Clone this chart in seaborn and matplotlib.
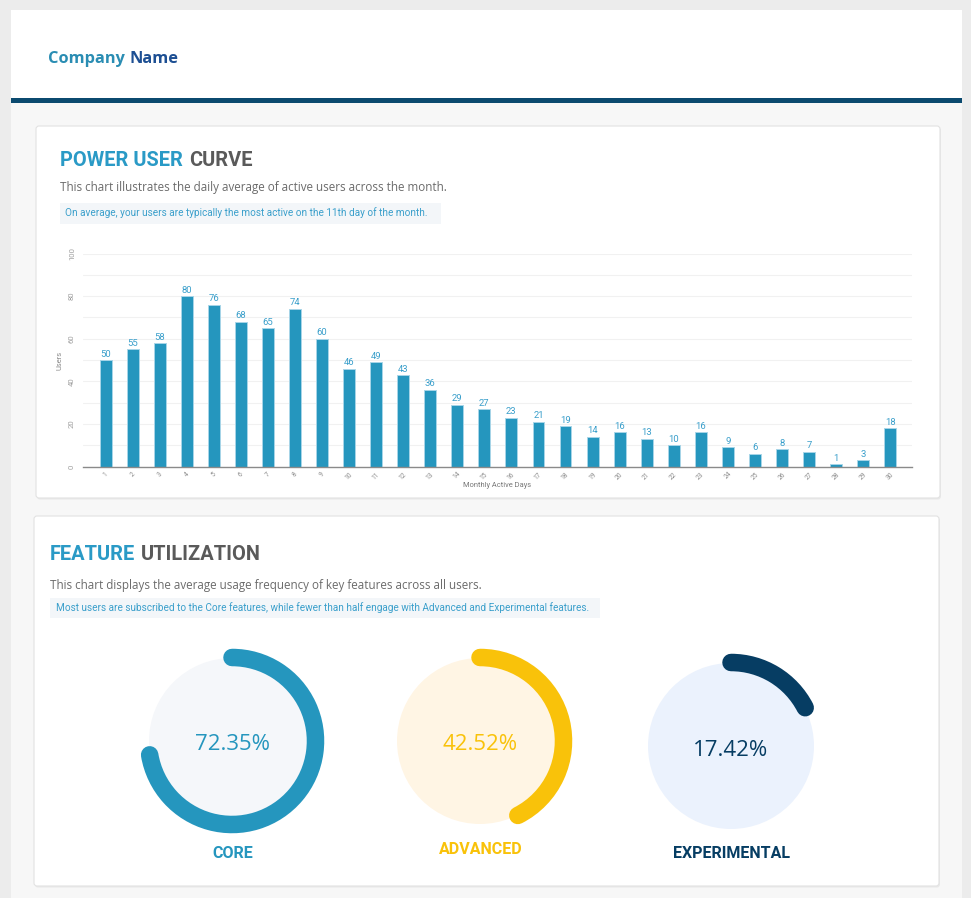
import numpy as np
import pandas as pd
import matplotlib
matplotlib.use("Agg")
import matplotlib.pyplot as plt
from matplotlib.patches import Rectangle, FancyBboxPatch, Circle, Arc
import seaborn as sns

# ---------------- data ----------------
days = list(range(1, 31))
users = [50, 55, 58, 80, 76, 68, 65, 74, 60, 46, 49, 43, 36, 29, 27, 23, 21, 19, 14, 16,
         13, 10, 16, 9, 6, 8, 7, 1, 3, 18]
y_ticks = [0, 20, 40, 60, 80, 100]
features = ["CORE", "ADVANCED", "EXPERIMENTAL"]
feature_pct = [72.35, 42.52, 17.42]

title1 = ("POWER USER", "CURVE")
subtitle1 = "This chart illustrates the daily average of active users across the month."
note1 = "On average, your users are typically the most active on the 11th day of the month."
title2 = ("FEATURE", "UTILIZATION")
subtitle2 = "This chart displays the average usage frequency of key features across all users."
note2 = "Most users are subscribed to the Core features, while fewer than half engage with Advanced and Experimental features."

# ---------------- style ----------------
sns.set_theme(style="white")
plt.rcParams["font.family"] = ["Roboto", "DejaVu Sans"]

W, H = 971, 898
fig = plt.figure(figsize=(W / 100, H / 100), dpi=100, facecolor="#ececec")
renderer = fig.canvas.get_renderer()

bg = fig.add_axes([0, 0, 1, 1], zorder=-10)
bg.set_xlim(0, W)
bg.set_ylim(H, 0)
bg.axis("off")
bg.patch.set_alpha(0)

def fit(t, target):
    w = t.get_window_extent(renderer).width
    t.set_fontsize(t.get_fontsize() * target / w)
    return t

def right_edge(t):
    return t.get_window_extent(renderer).x1

# page + header
bg.add_patch(Rectangle((11, 10), 951, 890, fc="#f7f7f7", ec="none"))
bg.add_patch(Rectangle((11, 10), 951, 88, fc="white", ec="none"))
bg.add_patch(Rectangle((11, 98), 951, 5, fc="#0b4a6f", ec="none"))

# cards
for (x, y, w, h) in [(36, 126, 904, 372), (34, 516, 905, 370)]:
    bg.add_patch(FancyBboxPatch((x + 1, y + 1.5), w, h, boxstyle="round,pad=0,rounding_size=3",
                                fc="#e9e9e9", ec="none"))
    bg.add_patch(FancyBboxPatch((x, y), w, h, boxstyle="round,pad=0,rounding_size=3",
                                fc="white", ec="#e2e2e2", lw=0.8))

# note boxes
bg.add_patch(Rectangle((60, 203), 381, 21, fc="#f3f6f9", ec="none"))
bg.add_patch(Rectangle((50, 598), 550, 20, fc="#f3f6f9", ec="none"))

# header text
hdr_font = ["Open Sans", "DejaVu Sans"]
c1 = bg.text(48, 59, "Company", fontsize=12, fontweight="bold", color="#2a8db3",
             va="center", ha="left", family=hdr_font)
c2 = bg.text(0, 59, "Name", fontsize=12, fontweight="bold", color="#1d4f93",
             va="center", ha="left", family=hdr_font)
tmp = bg.text(48, 59, "Company Name", fontsize=12, fontweight="bold", family=hdr_font)
fit(tmp, 130)
fs_c = tmp.get_fontsize()
tmp.remove()
c1.set_fontsize(fs_c)
c2.set_fontsize(fs_c)
c2.set_x(right_edge(c1) + fs_c * 100 / 72 * 0.26)

# card titles
def two_part_title(x, y, parts, fs):
    a = bg.text(x, y, parts[0], fontsize=fs, fontweight="bold", color="#2a9ac6",
                va="center", ha="left")
    b = bg.text(right_edge(a) + 6, y, parts[1], fontsize=fs, fontweight="bold",
                color="#5a5a5a", va="center", ha="left")
    return a, b

ta = bg.text(60, 160, title1[0], fontsize=13, fontweight="bold")
fit(ta, 122)
fs_title = ta.get_fontsize()
ta.remove()
two_part_title(60, 160, title1, fs_title)
two_part_title(50, 554, title2, fs_title)

s1 = bg.text(60, 188, subtitle1, fontsize=8.5, color="#6b6b6b", va="center", ha="left",
             family=["Open Sans", "DejaVu Sans"])
fit(s1, 386)
bg.text(50, 585, subtitle2, fontsize=s1.get_fontsize(), color="#6b6b6b", va="center",
        ha="left", family=["Open Sans", "DejaVu Sans"])

n1 = bg.text(65, 213, note1, fontsize=7, color="#3a9fcb", va="center", ha="left")
fit(n1, 362)
bg.text(56, 608, note2, fontsize=n1.get_fontsize(), color="#3a9fcb", va="center", ha="left")

# ---------------- bar chart ----------------
ax_l, ax_r, ax_t, ax_b = 83.3, 911.7, 253.5, 466.5
ax = fig.add_axes([ax_l / W, 1 - ax_b / H, (ax_r - ax_l) / W, (ax_b - ax_t) / H])
df = pd.DataFrame({"day": [str(d) for d in days], "users": users})
sns.barplot(data=df, x="day", y="users", color="#2596be", saturation=1, width=0.44,
            edgecolor="#a7d5e8", linewidth=0.7, ax=ax)
ax.set_xlim(-0.83, len(days) - 1 + 0.8)
ax.set_ylim(0, 100)
ax.set_facecolor("none")
for s in ["top", "right", "left"]:
    ax.spines[s].set_visible(False)
ax.spines["bottom"].set_color("#8a8a8a")
ax.spines["bottom"].set_linewidth(1.0)
ax.set_yticks(range(0, 101, 10))
ax.set_yticklabels([str(v) if v in y_ticks else "" for v in range(0, 101, 10)],
                   rotation=90, fontsize=5.6, color="#a0a0a0", va="center")
ax.grid(axis="y", color="#f1f1f1", lw=0.8)
ax.set_axisbelow(True)
ax.tick_params(axis="y", length=0, pad=6)
ax.tick_params(axis="x", length=0, pad=3)
for lbl in ax.get_xticklabels():
    lbl.set_rotation(45)
    lbl.set_fontsize(4.8)
    lbl.set_color("#8a8a8a")
    lbl.set_ha("center")
ax.set_xlabel("Monthly Active Days", fontsize=5.4, color="#777777", labelpad=1)
ax.set_ylabel("Users", fontsize=5.4, color="#888888", labelpad=4)
ax.bar_label(ax.containers[0], labels=[str(v) for v in users], padding=1,
             fontsize=6.8, color="#3a9fcb")

# ---------------- donuts ----------------
centers = [(232, 741), (480, 741), (731, 746)]
arc_colors = ["#2596be", "#f9c20a", "#063d63"]
disk_colors = ["#f5f7fa", "#fff5e4", "#ebf2fd"]
label_y = [853, 849, 853]
R = 83.5
for name, pct, (cx, cy), ac, dc, ly in zip(features, feature_pct, centers, arc_colors,
                                           disk_colors, label_y):
    dax = fig.add_axes([(cx - 100) / W, 1 - (cy + 100) / H, 200 / W, 200 / H])
    dax.set_xlim(-100, 100)
    dax.set_ylim(-100, 100)
    dax.axis("off")
    dax.add_patch(Circle((0, 0), 83, fc=dc, ec="none"))
    dax.add_patch(Arc((0, 0), 2 * R, 2 * R, theta1=90 - 360 * pct / 100, theta2=90,
                      lw=17.5 * 0.72, color=ac, capstyle="round"))
    dax.text(0, -4, f"{pct:.2f}%", ha="center", va="center", fontsize=16,
             color=ac, family=["Open Sans", "DejaVu Sans"])
    lt = bg.text(cx + 1, ly, name, ha="center", va="center", fontsize=11.5,
                 fontweight="bold", color=ac)
    lt.set_fontstretch("condensed")

fig.savefig("out.png", dpi=100, facecolor=fig.get_facecolor())
